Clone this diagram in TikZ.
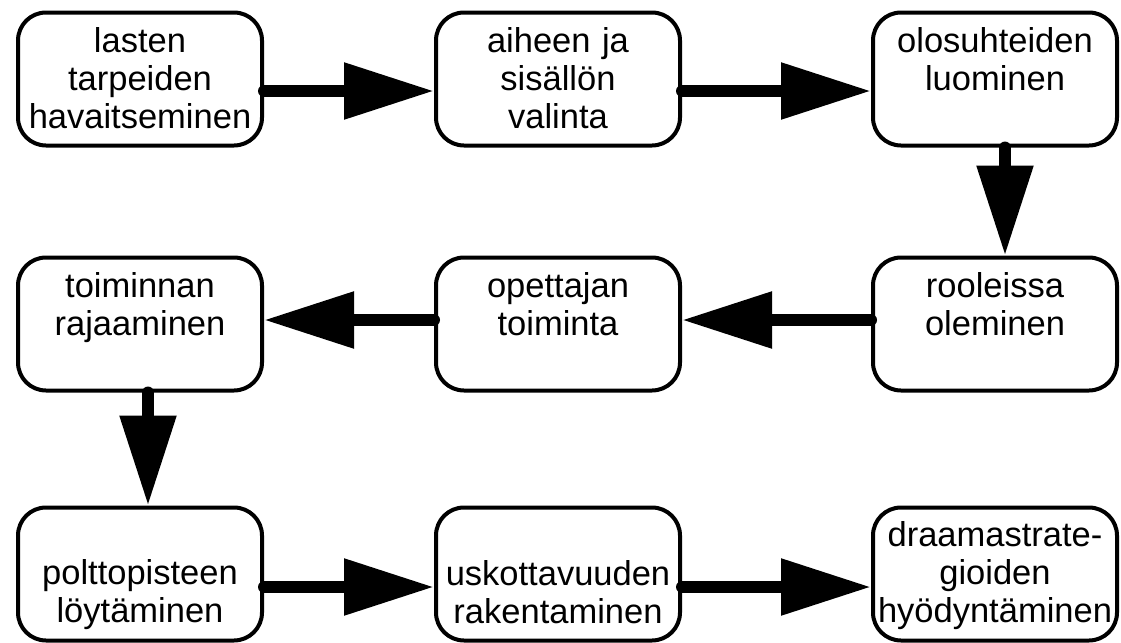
\documentclass[tikz,border=0pt]{standalone}
\usepackage{fontspec}
\setmainfont{Liberation Sans}
\usetikzlibrary{arrows.meta, calc}

\newcommand\linestrut{\rule[-3pt]{0pt}{17pt}}

\begin{document}
\begin{tikzpicture}[x=0.5pt, y=-0.5pt, >={Triangle[length=45pt, width=27pt]},
    box/.style={draw, line width=2pt, rounded corners=14pt,
        minimum width=122pt, minimum height=66.5pt, text width=120pt,
        inner xsep=1pt, inner ysep=0pt, align=center,
        font=\fontsize{17.25pt}{19pt}\selectfont,
        execute at begin node=\linestrut, execute at end node=\linestrut},
    flow/.style={->, line width=6pt, line cap=round}]
    \useasboundingbox (0,0) rectangle (1121,643);

    % first row
    \node[box] (lasten) at (140,79) {lasten\\tarpeiden\\havaitseminen};
    \node[box] (aihe) at (558,79) {aiheen ja\\sisällön\\valinta};
    \node[box] (olosuhteet) at (995,79) {olosuhteiden\\luominen\\\mbox{}};

    % second row
    \node[box] (roolit) at (995,324) {rooleissa\\oleminen\\\mbox{}};
    \node[box] (opettaja) at (558,324) {opettajan\\toiminta\\\mbox{}};
    \node[box] (rajaus) at (140,324) {toiminnan\\rajaaminen\\\mbox{}};

    % third row
    \node[box] (polttopiste) at (140,574) {\mbox{}\\polttopisteen\\löytäminen};
    \node[box] (uskottavuus) at (558,574) {\mbox{}\\uskottavuuden\\rakentaminen};
    \node[box] (strategiat) at (995,574) {draamastrate-\\gioiden\\hyödyntäminen};

    \draw[flow] ($(lasten.east)+(0,12)$) -- ($(aihe.west)+(0,12)$);
    \draw[flow] ($(aihe.east)+(0,12)$) -- ($(olosuhteet.west)+(0,12)$);
    \draw[flow] ($(olosuhteet.south)+(10,0)$) -- ($(roolit.north)+(10,0)$);
    \draw[flow] ($(roolit.west)+(0,-4)$) -- ($(opettaja.east)+(0,-4)$);
    \draw[flow] ($(opettaja.west)+(0,-4)$) -- ($(rajaus.east)+(0,-4)$);
    \draw[flow] ($(rajaus.south)+(8,0)$) -- ($(polttopiste.north)+(8,0)$);
    \draw[flow] ($(polttopiste.east)+(0,13)$) -- ($(uskottavuus.west)+(0,13)$);
    \draw[flow] ($(uskottavuus.east)+(0,13)$) -- ($(strategiat.west)+(0,13)$);
\end{tikzpicture}
\end{document}
